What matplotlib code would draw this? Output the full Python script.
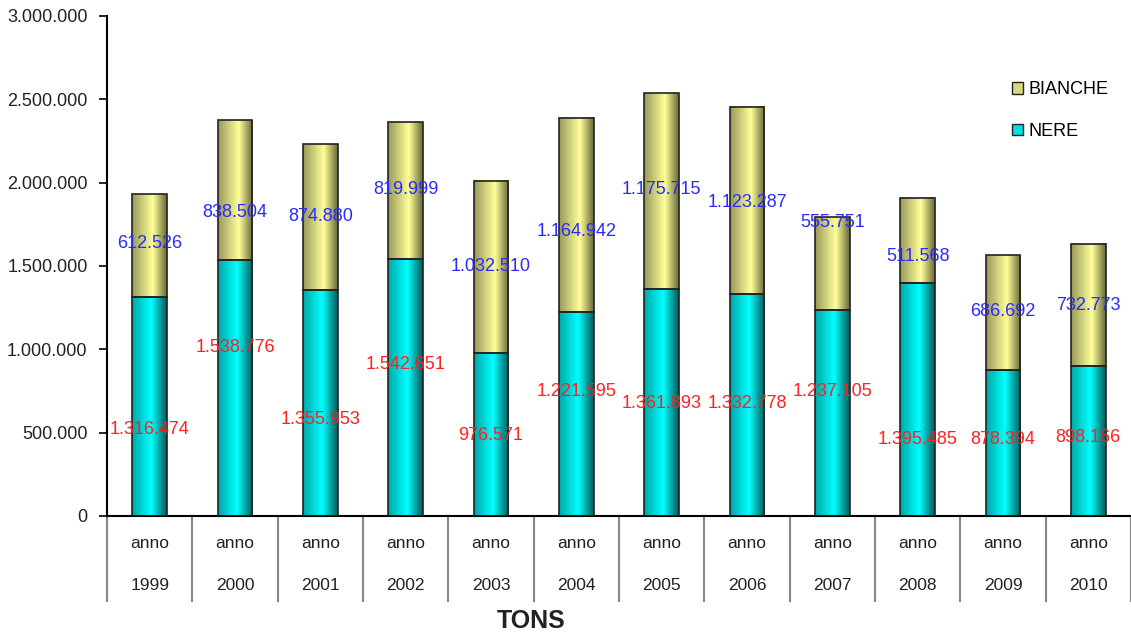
import matplotlib.pyplot as plt
import numpy as np
from matplotlib.colors import LinearSegmentedColormap
from matplotlib.patches import Patch

plt.rcParams["font.family"] = ["Liberation Sans", "DejaVu Sans"]

YEARS = ["1999", "2000", "2001", "2002", "2003", "2004", "2005", "2006", "2007", "2008", "2009", "2010"]
NERE = [1316474, 1538776, 1355953, 1542651, 976571, 1221595, 1361893, 1332778, 1237105, 1395485, 878394, 898166]
BIANCHE = [612526, 838504, 874880, 819999, 1032510, 1164942, 1175715, 1123287, 555751, 511568, 686692, 732773]

# where the data labels sit (data units), moved by hand in the original
NERE_LABEL_Y = [516000, 1008000, 576000, 906000, 486000, 744000, 672000, 672000, 744000, 456000, 456000, 474000]
BIANCHE_LABEL_Y = [1632000, 1818000, 1794000, 1956000, 1494000, 1704000, 1956000, 1878000, 1758000, 1554000, 1224000, 1260000]

BAR_W = 0.41


def fmt(v):
    return f"{int(v):,}".replace(",", ".")


def shaded_bar(ax, x, bottom, height, cmap):
    grad = np.linspace(0, 1, 64).reshape(1, -1)
    ax.imshow(grad, cmap=cmap, aspect="auto", interpolation="bilinear",
              extent=(x - BAR_W / 2, x + BAR_W / 2, bottom, bottom + height), zorder=2)
    ax.bar(x, height, BAR_W, bottom=bottom, facecolor="none", edgecolor="#222222", linewidth=1.2, zorder=3)


def main() -> None:
    fig = plt.figure(figsize=(11.31, 6.37), dpi=100)
    ax = fig.add_axes([107 / 1131, 1 - 516 / 637, 1 - 107 / 1131, 500 / 637])

    cyan = LinearSegmentedColormap.from_list("cyan", [(0, "#00a8a8"), (0.55, "#00ffff"), (1, "#005c5c")])
    khaki = LinearSegmentedColormap.from_list("khaki", [(0, "#9a9a5a"), (0.6, "#ffff99"), (1, "#6a6a38")])

    x = np.arange(len(YEARS))
    for i in x:
        shaded_bar(ax, i, 0, NERE[i], cyan)
        shaded_bar(ax, i, NERE[i], BIANCHE[i], khaki)
        ax.text(i, NERE_LABEL_Y[i], fmt(NERE[i]), color="#ff2020", fontsize=13, ha="center", va="center", zorder=5)
        ax.text(i, BIANCHE_LABEL_Y[i], fmt(BIANCHE[i]), color="#2a2aff", fontsize=13, ha="center", va="center", zorder=5)

    ax.set_xlim(-0.5, len(YEARS) - 0.5)
    ax.set_ylim(0, 3000000)
    ax.set_yticks(np.arange(0, 3000001, 500000))
    ax.set_yticklabels([fmt(v) for v in np.arange(0, 3000001, 500000)], fontsize=13, color="#222222")
    ax.tick_params(axis="y", direction="out", length=6, width=1.2, pad=8)
    ax.set_xticks([])
    for s in ["top", "right"]:
        ax.spines[s].set_visible(False)
    ax.spines["left"].set_linewidth(1.5)
    ax.spines["bottom"].set_linewidth(1.5)

    # category table below the axis
    trans = ax.get_xaxis_transform()
    for i in range(len(YEARS) + 1):
        ax.plot([i - 0.5, i - 0.5], [0, -0.17], transform=trans, color="#888888", lw=1.5, clip_on=False)
    for i, yr in enumerate(YEARS):
        ax.text(i, -0.054, "anno", transform=trans, ha="center", va="center", fontsize=12.5, color="#222222")
        ax.text(i, -0.14, yr, transform=trans, ha="center", va="center", fontsize=12.5, color="#222222")

    fig.text(531 / 1131, 1 - 621 / 637, "TONS", ha="center", va="center", fontsize=18, fontweight="bold", color="#222222")

    handles = [Patch(facecolor="#d8d880", edgecolor="#222222", label="BIANCHE"),
               Patch(facecolor="#00e0e0", edgecolor="#222222", label="NERE")]
    ax.legend(handles=handles, loc="upper left", bbox_to_anchor=(1006 / 1131 - 107 / 1131, 0), frameon=False,
              fontsize=13, handlelength=0.6, handleheight=0.6, handletextpad=0.3, labelspacing=1.35,
              borderaxespad=0, bbox_transform=ax.transAxes)
    leg = ax.get_legend()
    leg.set_bbox_to_anchor((1005 / 1131, 1 - 74 / 637), transform=fig.transFigure)

    fig.savefig("out.png", dpi=100)


if __name__ == "__main__":
    main()
